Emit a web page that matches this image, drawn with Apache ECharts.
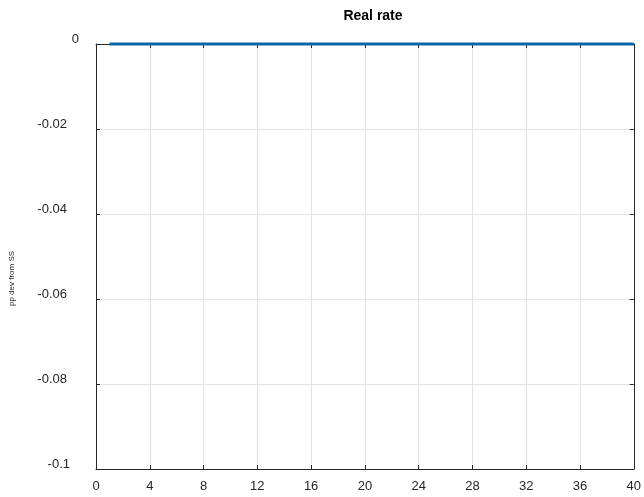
<!DOCTYPE html>
<html>
<head>
<meta charset="utf-8">
<script src="https://cdn.jsdelivr.net/npm/echarts@6/dist/echarts.min.js"></script>
<style>
  html, body { margin: 0; padding: 0; background: #fff; }
  #chart { width: 644px; height: 497px; }
</style>
</head>
<body>
<div id="chart"></div>
<script>
// Impulse response horizon (quarters) and the real rate response
const periods = [1,2,3,4,5,6,7,8,9,10,11,12,13,14,15,16,17,18,19,20,
                 21,22,23,24,25,26,27,28,29,30,31,32,33,34,35,36,37,38,39,40];
const realRate = [0,0,0,0,0,0,0,0,0,0,0,0,0,0,0,0,0,0,0,0,
                  0,0,0,0,0,0,0,0,0,0,0,0,0,0,0,0,0,0,0,0];
const xTicks = [0,4,8,12,16,20,24,28,32,36,40];
const yTicks = [0,-0.02,-0.04,-0.06,-0.08,-0.1];

const axisColor = '#262626';
const fontFamily = 'Liberation Sans, Arial, Helvetica, sans-serif';

const chart = echarts.init(document.getElementById('chart'), null, { renderer: 'canvas' });

const xBase = {
  type: 'value', min: xTicks[0], max: xTicks[xTicks.length - 1], interval: 4,
  axisLine: { show: true, onZero: false, lineStyle: { color: axisColor, width: 1 } },
  axisTick: { show: true, inside: true, length: 4, lineStyle: { color: axisColor } },
  splitLine: { show: false }
};
const yBase = {
  type: 'value', min: yTicks[yTicks.length - 1], max: yTicks[0], interval: 0.02,
  axisLine: { show: true, onZero: false, lineStyle: { color: axisColor, width: 1 } },
  axisTick: { show: true, inside: true, length: 4, lineStyle: { color: axisColor } },
  splitLine: { show: false }
};

// y tick text: MATLAB-like formatting, with a little extra room for longer labels
function yLabel(v) {
  if (Math.abs(v) < 1e-12) return '{z|0}';
  const s = String(+v.toFixed(2));
  return s.length <= 4 ? '{s|' + s + '}' : '{l|' + s + '}';
}

chart.setOption({
  animation: false,
  backgroundColor: '#fff',
  title: {
    text: 'Real rate', left: 368, top: 4, textAlign: 'center',
    textStyle: { fontFamily: fontFamily, fontSize: 14, fontWeight: 'bold', color: '#000' }
  },
  grid: { left: 96, right: 3, top: 44, bottom: 28, containLabel: false },
  xAxis: [
    Object.assign({}, xBase, {
      position: 'bottom',
      axisLabel: { margin: 11, fontFamily: fontFamily, fontSize: 13, color: axisColor, formatter: v => String(v) },
      splitLine: { show: true, lineStyle: { color: '#e3e3e3', width: 1 } }
    }),
    Object.assign({}, xBase, { position: 'top', axisLabel: { show: false } })
  ],
  yAxis: [
    Object.assign({}, yBase, {
      position: 'left',
      name: 'pp dev from SS',
      nameLocation: 'middle',
      nameGap: 80,
      nameRotate: 90,
      nameTextStyle: { fontFamily: fontFamily, fontSize: 8, color: axisColor, padding: [0, 44, 0, 0] },
      axisLabel: {
        margin: 17,
        fontFamily: fontFamily, fontSize: 13, color: axisColor,
        padding: [0, 0, 10, 0],
        formatter: yLabel,
        rich: {
          z: { fontFamily: fontFamily, fontSize: 13, color: axisColor },
          s: { fontFamily: fontFamily, fontSize: 13, color: axisColor, padding: [0, 9, 0, 0] },
          l: { fontFamily: fontFamily, fontSize: 13, color: axisColor, padding: [0, 12, 0, 0] }
        }
      },
      splitLine: { show: true, lineStyle: { color: '#e3e3e3', width: 1 } }
    }),
    Object.assign({}, yBase, { position: 'right', axisLabel: { show: false } })
  ],
  series: [{
    type: 'line',
    data: periods.map((p, i) => [p, realRate[i]]),
    showSymbol: false,
    clip: false,
    lineStyle: { color: '#0a66a8', width: 3 },
    z: 5
  }]
});
</script>
</body>
</html>
